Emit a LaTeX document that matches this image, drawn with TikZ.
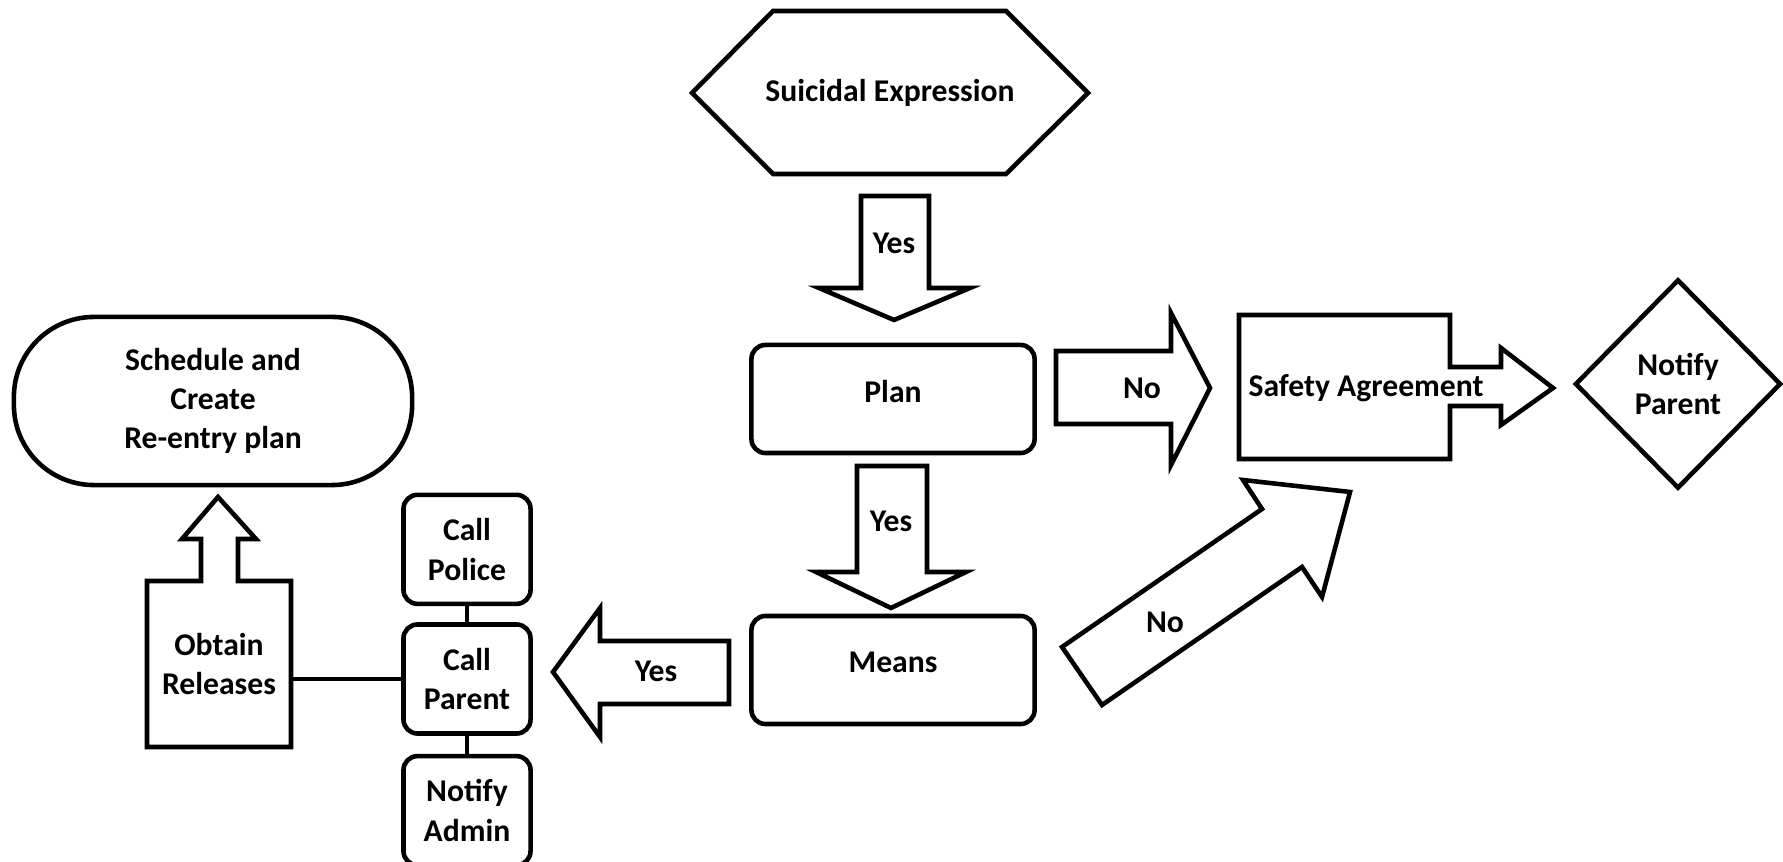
\documentclass[tikz,border=0pt]{standalone}
\usepackage{fontspec}
\setmainfont{Carlito}
\usetikzlibrary{positioning, shapes.geometric}

\tikzset{
  every node/.style={font=\bfseries\fontsize{9}{11.2}\selectfont, align=center},
  outline/.style={draw, line width=1.3pt, line join=miter},
  stepbox/.style={outline, rounded corners=0.14cm, minimum width=2.83cm, minimum height=1.08cm, text depth=0.16cm},
  callbox/.style={outline, rounded corners=0.14cm, minimum width=1.27cm, minimum height=1.09cm, inner sep=1pt},
  blockarrow/.style={outline, fill=white},
}

\begin{document}
\begin{tikzpicture}[x=0.01cm, y=-0.01cm]
    \useasboundingbox (0,0) rectangle (1783,862);

    % Start
    \draw[outline] (692,93) -- (773,11) -- (1006,11) -- (1088,93) -- (1006,174) -- (773,174) -- cycle;
    \node (expr) at (890,93) {Suicidal Expression};

    % Steps
    \node[stepbox] (plan) at (893,399) {Plan};
    \node[stepbox] (means) at (893,670) {Means};

    % Block arrows
    \draw[blockarrow] (861,196) -- (929,196) -- (929,288) -- (970,288) -- (894,320) -- (819,288) -- (861,288) -- cycle;
    \node (yes1) at (894,243) {Yes};
    \draw[blockarrow] (857,466) -- (927,466) -- (927,572) -- (966,572) -- (891,608) -- (816,572) -- (857,572) -- cycle;
    \node (yes2) at (891,521) {Yes};
    \draw[blockarrow] (1056,351) -- (1171,351) -- (1171,313) -- (1210,388) -- (1171,465) -- (1171,424) -- (1056,424) -- cycle;
    \node (no1) at (1142,388) {No};
    \draw[blockarrow] (1062,647) -- (1262,509) -- (1243,480) -- (1350,492) -- (1322,597) -- (1302,567) -- (1102,705) -- cycle;
    \node (no2) at (1165,622) {No};
    \draw[blockarrow] (729,641) -- (729,704) -- (600,704) -- (600,737) -- (553,672) -- (600,608) -- (600,641) -- cycle;
    \node (yes3) at (656,671) {Yes};

    % Safety agreement and notify
    \draw[outline] (1239,315) -- (1450,315) -- (1450,367) -- (1501,367) -- (1501,348) -- (1553,388)
        -- (1501,425) -- (1501,406) -- (1450,406) -- (1450,459) -- (1239,459) -- cycle;
    \node (safety) at (1366,388) {Safety Agreement};
    \node[diamond, outline, minimum width=2.06cm, minimum height=2.09cm, inner sep=0pt] (notify) at (1678,384) {Notify\\Parent};

    % Calls
    \node[callbox] (parent) at (467,679) {Call\\Parent};
    \node[callbox, above=0.16cm of parent] (police) {Call\\Police};
    \node[callbox, below=0.18cm of parent] (admin) {Notify\\Admin};
    \draw[outline] (police) -- (parent);
    \draw[outline] (parent) -- (admin);

    % Releases and re-entry
    \draw[outline] (147,581) -- (201,581) -- (201,539) -- (182,539) -- (218,497) -- (256,539) -- (238,539)
        -- (238,581) -- (291,581) -- (291,747) -- (147,747) -- cycle;
    \node[minimum width=1.44cm, minimum height=1.66cm] (obtain) at (219,664) {Obtain\\Releases};
    \draw[outline] (obtain.east |- parent.west) -- (parent.west);
    \node[outline, rounded corners=0.8cm, minimum width=3.98cm, minimum height=1.68cm] (reentry) at (213,401) {Schedule and\\Create\\Re-entry plan};
\end{tikzpicture}
\end{document}
